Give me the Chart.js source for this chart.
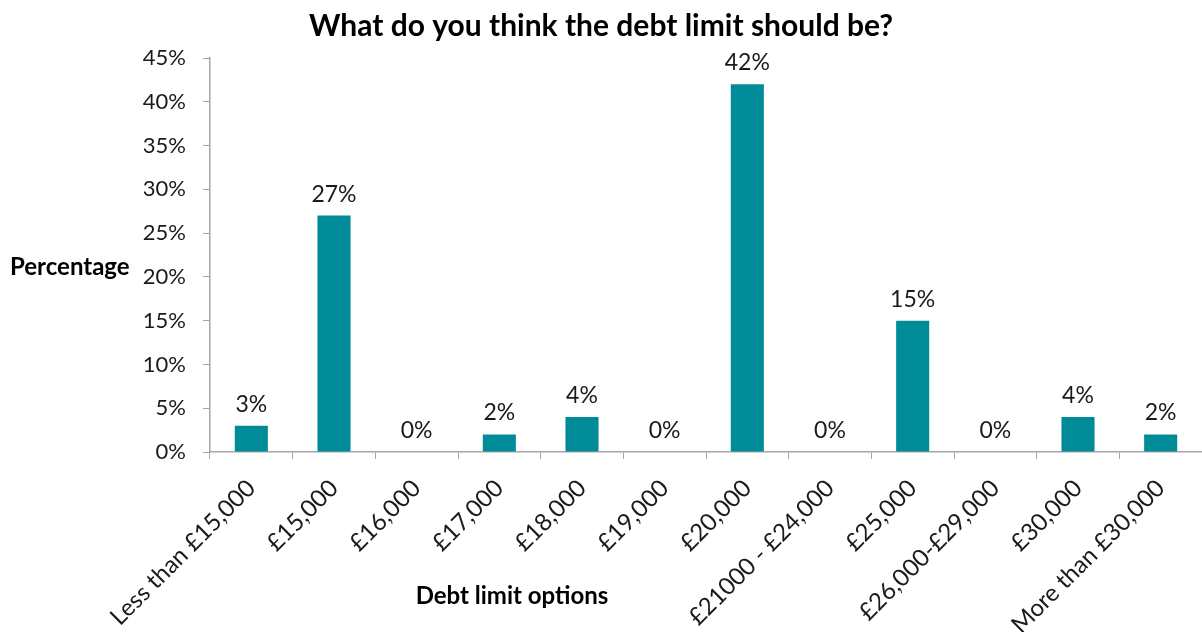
<!DOCTYPE html>
<html>
<head>
<meta charset="utf-8">
<script src="https://cdn.jsdelivr.net/npm/chart.js@4/dist/chart.umd.min.js"></script>
<style>
  html, body { margin: 0; padding: 0; background: #fff; }
  #wrap { width: 1202px; height: 632px; position: relative; }
</style>
</head>
<body>
<div id="wrap"><canvas id="chart"></canvas></div>
<script>
  var categories = [
    "Less than £15,000", "£15,000", "£16,000", "£17,000", "£18,000", "£19,000",
    "£20,000", "£21000 - £24,000", "£25,000", "£26,000-£29,000", "£30,000", "More than £30,000"
  ];
  var percentages = [3, 27, 0, 2, 4, 0, 42, 0, 15, 0, 4, 2];
  var titleText = "What do you think the debt limit should be?";
  var yTitle = "Percentage";
  var xTitle = "Debt limit options";

  var FONT = "Lato, 'Open Sans', sans-serif";
  var TEXT = "#1a1a1a";

  var valueLabels = {
    id: "valueLabels",
    afterDatasetsDraw: function (chart) {
      var ctx = chart.ctx;
      var meta = chart.getDatasetMeta(0);
      ctx.save();
      ctx.font = "23px " + FONT;
      ctx.fillStyle = TEXT;
      ctx.textAlign = "center";
      ctx.textBaseline = "bottom";
      meta.data.forEach(function (bar, i) {
        ctx.fillText(percentages[i] + "%", bar.x, bar.y - 10);
      });
      ctx.restore();
    }
  };

  var axisTitles = {
    id: "axisTitles",
    afterDraw: function (chart) {
      var ctx = chart.ctx;
      var area = chart.chartArea;
      ctx.save();
      ctx.font = "bold 24px " + FONT;
      ctx.fillStyle = "#000";
      ctx.textBaseline = "middle";
      ctx.textAlign = "left";
      ctx.fillText(yTitle, 10, (area.top + area.bottom) / 2 + 12);
      ctx.textAlign = "center";
      ctx.fillText(xTitle, 512, 596);
      ctx.restore();
    }
  };

  new Chart(document.getElementById("chart"), {
    type: "bar",
    data: {
      labels: categories,
      datasets: [{
        data: percentages,
        backgroundColor: "#008b99",
        barPercentage: 0.4,
        categoryPercentage: 1
      }]
    },
    options: {
      responsive: true,
      maintainAspectRatio: false,
      animation: false,
      layout: { padding: { left: 0, right: 0, top: 0, bottom: 0 } },
      plugins: {
        legend: { display: false },
        tooltip: { enabled: false },
        title: {
          display: true,
          text: titleText,
          color: "#000",
          font: { family: FONT, size: 30, weight: "bold" },
          padding: { top: 8, bottom: 14 }
        }
      },
      scales: {
        x: {
          afterFit: function (scale) { scale.height = 180; },
          grid: {
            offset: true,
            drawOnChartArea: false,
            drawTicks: true,
            tickLength: 7,
            color: "#a6a6a6"
          },
          border: { color: "#a6a6a6", width: 1.5 },
          ticks: {
            color: TEXT,
            font: { family: FONT, size: 24 },
            minRotation: 45,
            maxRotation: 45,
            autoSkip: false,
            padding: 15
          }
        },
        y: {
          min: 0,
          max: 45,
          afterFit: function (scale) { scale.width = 210; },
          grid: {
            drawOnChartArea: false,
            drawTicks: true,
            tickLength: 7,
            color: "#a6a6a6"
          },
          border: { color: "#a6a6a6", width: 1.5 },
          ticks: {
            stepSize: 5,
            color: TEXT,
            font: { family: FONT, size: 22 },
            padding: 17,
            callback: function (v) { return v + "%"; }
          }
        }
      }
    },
    plugins: [valueLabels, axisTitles]
  });
</script>
</body>
</html>
